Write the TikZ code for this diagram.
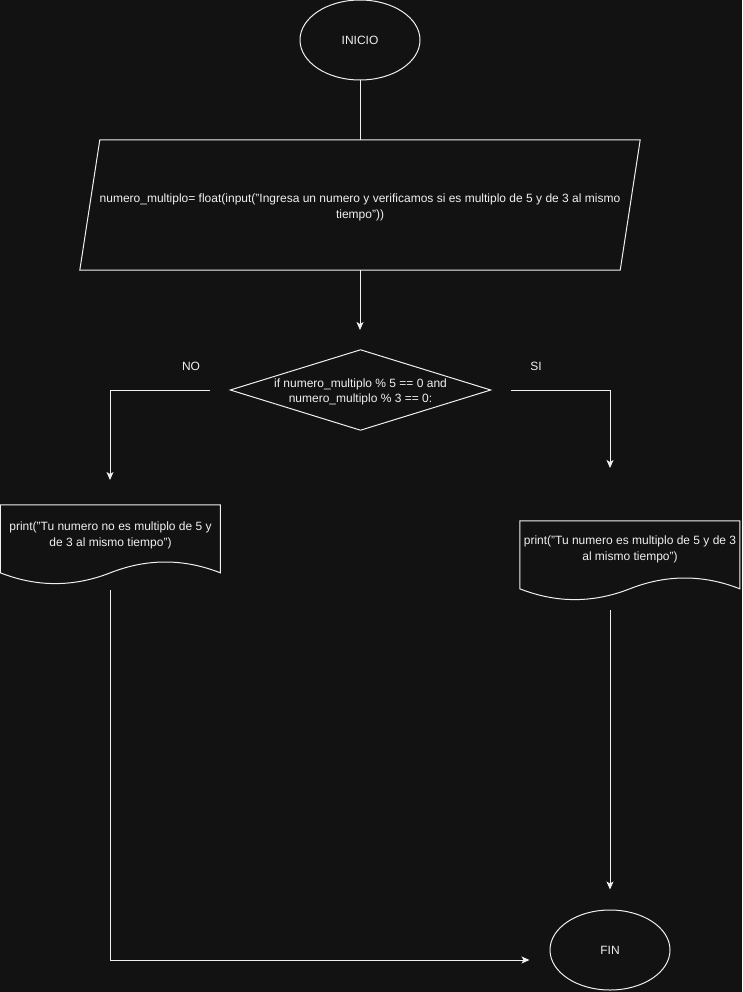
\documentclass[tikz,border=0pt]{standalone}
\usepackage{fontspec}
\setmainfont{Liberation Sans}
\usetikzlibrary{arrows.meta,shapes.geometric}
\definecolor{fondo}{RGB}{18,18,18}
\definecolor{trazo}{RGB}{240,240,240}
\begin{document}
\begin{tikzpicture}[x=1pt,y=-1pt,
  every node/.style={text=trazo, font=\fontsize{12}{15.5}\selectfont, align=center, inner sep=0pt},
  linea/.style={draw=trazo, line width=1pt},
  flecha/.style={linea, -{Stealth[length=8pt,width=7pt,inset=2pt]}},
  terminal/.style={ellipse, draw=trazo, line width=1pt, minimum width=120pt, minimum height=80pt},
  caja/.style 2 args={minimum width=#1, minimum height=#2}
]
% fondo oscuro y marco del dibujo
\fill[fondo] (0,0) rectangle (742,992);
\useasboundingbox (0,0) rectangle (742,992);

% inicio
\node[terminal] (inicio) at (360,40) {INICIO};

% entrada de datos (paralelogramo)
\node[caja={560pt}{130pt}] (entrada) at (360,205) {};
\node (txtentrada) at (360,207.5)
  {numero\_multiplo= float(input("Ingresa un numero y verificamos si es multiplo de 5 y de 3 al mismo\\tiempo"))};
\draw[linea] ([xshift=20pt]entrada.north west) -- (entrada.north east)
  -- ([xshift=-20pt]entrada.south east) -- (entrada.south west) -- cycle;

% decision
\node[caja={260pt}{80pt}] (cond) at (360.5,390) {};
\node (txtcond) at (360.5,392)
  {if numero\_multiplo \% 5 == 0 and\\numero\_multiplo \% 3 == 0:};
\draw[linea] (cond.north) -- (cond.east) -- (cond.south) -- (cond.west) -- cycle;

\node (no) at (191,366) {NO};
\node (si) at (536,366) {SI};

% salida: caso negativo
\node[caja={220pt}{80pt}] (docno) at (110.5,545) {};
\node (txtno) at (110.5,535.5) {print("Tu numero no es multiplo de 5 y\\de 3 al mismo tiempo")};
\begin{scope}[shift={(docno.north west)}]
  \draw[linea] (0,0) -- (220,0) -- (220,68)
    .. controls (183.3,53.6) and (146.7,53.6) .. (110,68)
    .. controls (73.3,82.4) and (36.7,82.4) .. (0,68) -- cycle;
\end{scope}

% salida: caso afirmativo
\node[caja={220pt}{80pt}] (docsi) at (630,561) {};
\node (txtsi) at (630,549.5) {print("Tu numero es multiplo de 5 y de 3\\al mismo tiempo")};
\begin{scope}[shift={(docsi.north west)}]
  \draw[linea] (0,0) -- (220,0) -- (220,68)
    .. controls (183.3,53.6) and (146.7,53.6) .. (110,68)
    .. controls (73.3,82.4) and (36.7,82.4) .. (0,68) -- cycle;
\end{scope}

% fin
\node[terminal] (fin) at (610,950) {FIN};

% conectores
\coordinate (p1) at (360,330);
\coordinate (p2) at (110,480);
\coordinate (p3) at (610,468);
\coordinate (p4) at (110,590);
\coordinate (p5) at (610,610);

\draw[linea] (inicio.south) -- (entrada.north);
\draw[flecha] (entrada.south) -- (p1);
\draw[flecha] ([xshift=-20pt]cond.west) -| (p2);
\draw[flecha] ([xshift=20pt]cond.east) -| (p3);
\draw[flecha] (p4) |- ([xshift=-20pt,yshift=-10pt]fin.west);
\draw[flecha] (p5) -- ([yshift=20pt]fin.north);
\end{tikzpicture}
\end{document}
